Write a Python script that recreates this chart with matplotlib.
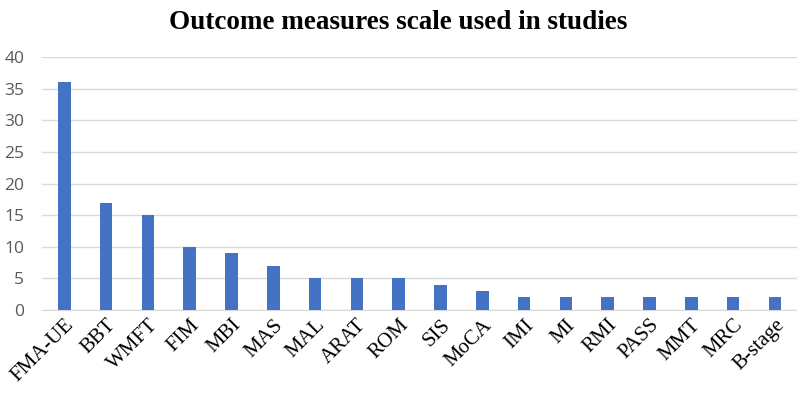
import matplotlib.pyplot as plt

scales = ["FMA-UE", "BBT", "WMFT", "FIM", "MBI", "MAS", "MAL", "ARAT", "ROM",
          "SIS", "MoCA", "IMI", "MI", "RMI", "PASS", "MMT", "MRC", "B-stage"]
counts = [36, 17, 15, 10, 9, 7, 5, 5, 5, 4, 3, 2, 2, 2, 2, 2, 2, 2]
yticks = [0, 5, 10, 15, 20, 25, 30, 35, 40]

fig = plt.figure(figsize=(7.97, 3.94), dpi=100)
ax = fig.add_axes([0.053, 0.213, 0.947, 0.642])

x = range(len(scales))
ax.bar(x, counts, width=0.3, color="#4472C4", zorder=3)

ax.set_xlim(-0.53, len(scales) - 0.47)
ax.set_ylim(0, 40)
ax.set_yticks(yticks)
ax.set_yticklabels([str(v) for v in yticks], fontfamily="Open Sans",
                   fontsize=12.5, color="#595959")
ax.set_xticks(list(x))
ax.set_xticklabels(scales, rotation=45, ha="right", va="top", rotation_mode="anchor",
                   fontfamily="Liberation Serif", fontsize=15)

ax.grid(axis="y", color="#d9d9d9", linewidth=1, zorder=0)
for s in ["top", "right", "left"]:
    ax.spines[s].set_visible(False)
ax.spines["bottom"].set_color("#d9d9d9")
ax.tick_params(axis="y", length=0, pad=13)
ax.tick_params(axis="x", length=0, pad=4)

fig.suptitle("Outcome measures scale used in studies", fontfamily="Liberation Serif",
             fontweight="bold", fontsize=19.5, y=0.975)

fig.savefig("out.png", dpi=100)
